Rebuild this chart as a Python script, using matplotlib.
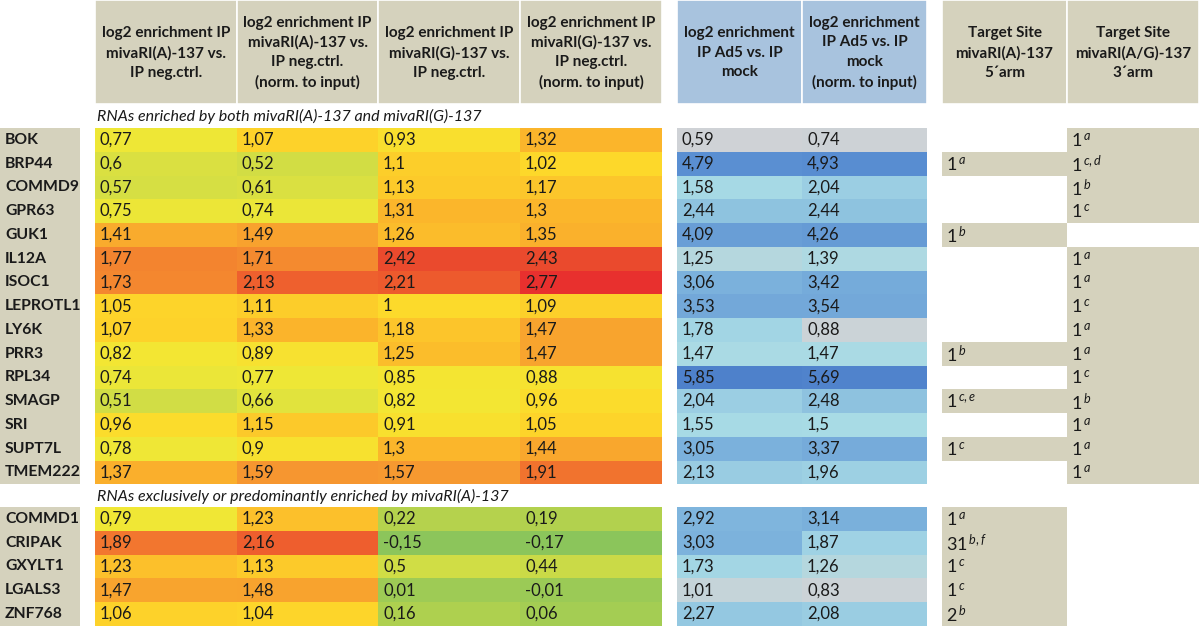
import matplotlib
matplotlib.use("Agg")
import matplotlib.pyplot as plt
from matplotlib.colors import LinearSegmentedColormap, Normalize

plt.rcParams["font.family"] = ["Lato", "DejaVu Sans"]
plt.rcParams["mathtext.fontset"] = "custom"
plt.rcParams["mathtext.rm"] = "Lato"
plt.rcParams["mathtext.it"] = "Lato:italic"

# ---- data ----
headers = [
    "log2 enrichment IP\nmivaRI(A)-137 vs.\nIP neg.ctrl.",
    "log2 enrichment IP\nmivaRI(A)-137 vs.\nIP neg.ctrl.\n(norm. to input)",
    "log2 enrichment IP\nmivaRI(G)-137 vs.\nIP neg.ctrl.",
    "log2 enrichment IP\nmivaRI(G)-137 vs.\nIP neg.ctrl.\n(norm. to input)",
    "log2 enrichment\nIP Ad5 vs. IP\nmock",
    "log2 enrichment\nIP Ad5 vs. IP\nmock\n(norm. to input)",
    "Target Site\nmivaRI(A)-137\n5\u00b4arm",
    "Target Site\nmivaRI(A/G)-137\n3\u00b4arm",
]
subtitles = ["RNAs enriched by both mivaRI(A)-137 and mivaRI(G)-137",
             "RNAs exclusively or predominantly enriched by mivaRI(A)-137"]

genes1 = ["BOK", "BRP44", "COMMD9", "GPR63", "GUK1", "IL12A", "ISOC1", "LEPROTL1",
          "LY6K", "PRR3", "RPL34", "SMAGP", "SRI", "SUPT7L", "TMEM222"]
a_ip1 = [0.77, 0.6, 0.57, 0.75, 1.41, 1.77, 1.73, 1.05, 1.07, 0.82, 0.74, 0.51, 0.96, 0.78, 1.37]
a_norm1 = [1.07, 0.52, 0.61, 0.74, 1.49, 1.71, 2.13, 1.11, 1.33, 0.89, 0.77, 0.66, 1.15, 0.9, 1.59]
g_ip1 = [0.93, 1.1, 1.13, 1.31, 1.26, 2.42, 2.21, 1, 1.18, 1.25, 0.85, 0.82, 0.91, 1.3, 1.57]
g_norm1 = [1.32, 1.02, 1.17, 1.3, 1.35, 2.43, 2.77, 1.09, 1.47, 1.47, 0.88, 0.96, 1.05, 1.44, 1.91]
ad5_ip1 = [0.59, 4.79, 1.58, 2.44, 4.09, 1.25, 3.06, 3.53, 1.78, 1.47, 5.85, 2.04, 1.55, 3.05, 2.13]
ad5_norm1 = [0.74, 4.93, 2.04, 2.44, 4.26, 1.39, 3.42, 3.54, 0.88, 1.47, 5.69, 2.48, 1.5, 3.37, 1.96]
site5_1 = [None, ("1", "a"), None, None, ("1", "b"), None, None, None, None, ("1", "b"),
           None, ("1", "c,e"), None, ("1", "c"), None]
site3_1 = [("1", "a"), ("1", "c,d"), ("1", "b"), ("1", "c"), None, ("1", "a"), ("1", "a"),
           ("1", "c"), ("1", "a"), ("1", "a"), ("1", "c"), ("1", "b"), ("1", "a"), ("1", "a"), ("1", "a")]

genes2 = ["COMMD1", "CRIPAK", "GXYLT1", "LGALS3", "ZNF768"]
a_ip2 = [0.79, 1.89, 1.23, 1.47, 1.06]
a_norm2 = [1.23, 2.16, 1.13, 1.48, 1.04]
g_ip2 = [0.22, -0.15, 0.5, 0.01, 0.16]
g_norm2 = [0.19, -0.17, 0.44, -0.01, 0.06]
ad5_ip2 = [2.92, 3.03, 1.73, 1.01, 2.27]
ad5_norm2 = [3.14, 1.87, 1.26, 0.83, 2.08]
site5_2 = [("1", "a"), ("31", "b,f"), ("1", "c"), ("1", "c"), ("2", "b")]
site3_2 = [None, None, None, None, None]

# ---- layout ----
BEIGE = "#d5d2bd"
BLUE_HEAD = "#a8c3de"
INK = "#1a1a1a"
col_left = [95, 237, 378, 520, 677, 802, 942, 1067]
col_right = [237, 378, 520, 662, 802, 927, 1067, 1199]
head_bottom = 104
row_h = 23.75
block_tops = [128, 507]
sub_y = [116, 496]

heat = LinearSegmentedColormap.from_list("heat", [
    (0.00, "#8bc55b"), (0.13, "#b5d24d"), (0.25, "#d6df43"), (0.33, "#f2e834"),
    (0.40, "#fdd92a"), (0.50, "#fbb72b"), (0.60, "#f69630"), (0.74, "#f06a2e"),
    (0.88, "#ea4b2d"), (1.00, "#e8302e")])
heat_norm = Normalize(-0.17, 2.77)
blues = LinearSegmentedColormap.from_list("blues", [
    (0.00, "#cfd2d6"), (0.06, "#cbd3d7"), (0.13, "#b4d7df"), (0.17, "#a8dbe5"),
    (0.27, "#9ccfe3"), (0.36, "#8dc2df"), (0.46, "#7cb2dc"), (0.66, "#6a9fd6"),
    (0.80, "#5a8fd2"), (1.00, "#4e81cb")])
blue_norm = Normalize(0.59, 5.85)

fig = plt.figure(figsize=(12, 6.27), dpi=100)
ax = fig.add_axes([0, 0, 1, 1])
ax.set_xlim(0, 1200)
ax.set_ylim(627, 0)
ax.axis("off")

# header boxes
for i, text in enumerate(headers):
    fc = BLUE_HEAD if i in (4, 5) else BEIGE
    ax.barh(head_bottom / 2, col_right[i] - col_left[i], left=col_left[i], height=head_bottom,
            color=fc, edgecolor="white", linewidth=1.2)
    ax.text((col_left[i] + col_right[i]) / 2, head_bottom / 2 + 1, text, ha="center", va="center",
            fontsize=11, fontweight="bold", color=INK, linespacing=1.5)

blocks = [
    (genes1, [a_ip1, a_norm1, g_ip1, g_norm1], [ad5_ip1, ad5_norm1], [site5_1, site3_1]),
    (genes2, [a_ip2, a_norm2, g_ip2, g_norm2], [ad5_ip2, ad5_norm2], [site5_2, site3_2]),
]


def fmt(v):
    return f"{v:g}".replace(".", ",")


for b, (genes, heat_cols, blue_cols, site_cols) in enumerate(blocks):
    top = block_tops[b]
    n = len(genes)
    centers = [top + (k + 0.5) * row_h for k in range(n)]
    ax.text(97, sub_y[b], subtitles[b], ha="left", va="center", fontsize=11.5, style="italic",
            color=INK)
    # gene label column
    ax.barh(top + n * row_h / 2, 80, left=0, height=n * row_h, color=BEIGE)
    for y, g in zip(centers, genes):
        ax.text(5, y, g, ha="left", va="center", fontsize=11.3, fontweight="bold", color=INK)
    # heat columns
    for c, vals in enumerate(heat_cols):
        ax.barh(centers, col_right[c] - col_left[c], left=col_left[c], height=row_h,
                color=heat(heat_norm(vals)), linewidth=0)
        for y, v in zip(centers, vals):
            ax.text(col_left[c] + 5, y, fmt(v), ha="left", va="center", fontsize=12, color=INK)
    # ad5 columns
    for c, vals in enumerate(blue_cols):
        i = 4 + c
        ax.barh(centers, col_right[i] - col_left[i], left=col_left[i], height=row_h,
                color=blues(blue_norm(vals)), linewidth=0)
        for y, v in zip(centers, vals):
            ax.text(col_left[i] + 5, y, fmt(v), ha="left", va="center", fontsize=12, color=INK)
    # target site columns
    for c, sites in enumerate(site_cols):
        i = 6 + c
        for y, s in zip(centers, sites):
            if s is None:
                continue
            ax.barh(y, col_right[i] - col_left[i], left=col_left[i], height=row_h + 0.3,
                    color=BEIGE, linewidth=0)
            ax.text(col_left[i] + 4, y + 1, f"{s[0]}$^{{\\,{s[1]}}}$", ha="left", va="center",
                    fontsize=13, color=INK)

fig.savefig("out.png", dpi=100, facecolor="white")
